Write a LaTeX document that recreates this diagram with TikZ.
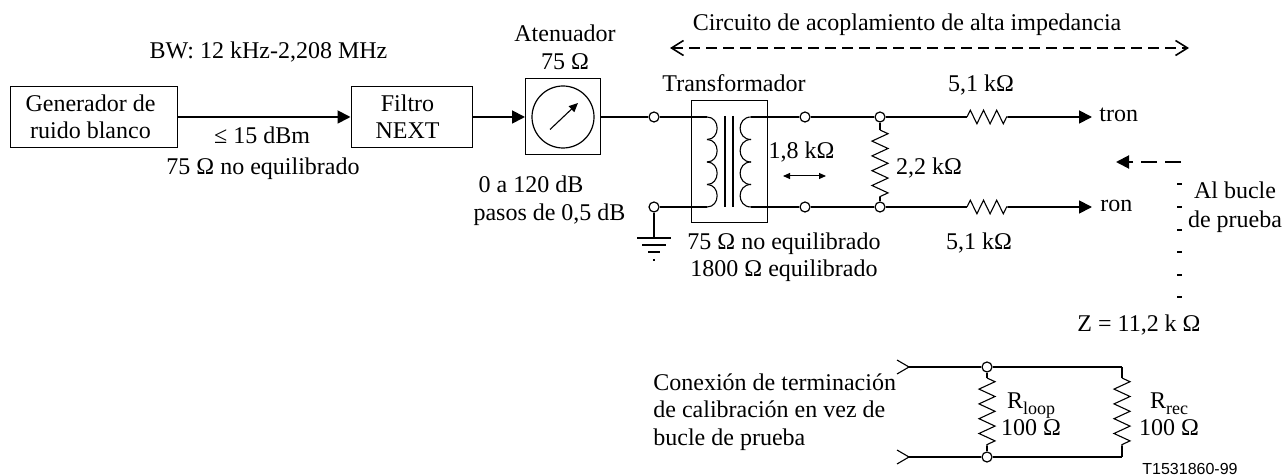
\documentclass[tikz,border=0pt]{standalone}
\usepackage{fontspec}
\setmainfont{Liberation Serif}
\newfontfamily\labelfont{Liberation Sans}
\usetikzlibrary{arrows.meta,decorations.pathmorphing}
\tikzset{
	box/.style={draw, line width=0.5pt, fill=white, inner sep=0pt},
	label/.style={align=center, inner sep=0pt, font=\fontsize{12}{13.5}\selectfont},
	wire/.style={line width=0.9pt},
	thinwire/.style={line width=0.55pt},
	fin/.style={-{Triangle[length=6.5pt,width=6.5pt]}},
	term/.style={circle, draw, line width=0.6pt, fill=white, minimum size=5pt, inner sep=0pt},
	zzh/.style={decorate, decoration={zigzag, segment length=6.6pt, amplitude=3.4pt}},
	zzv/.style={decorate, decoration={zigzag, segment length=7.4pt, amplitude=4pt}},
	open/.style={{Straight Barb[length=6pt,width=7.5pt]}-{Straight Barb[length=6pt,width=7.5pt]}}
}
\newcommand{\coil}[2]{\foreach \i in {0,1,2,3} {\draw[thinwire] (#1, 117+22.5*\i) .. controls (#1+#2, 117+22.5*\i) and (#1+#2, 139.5+22.5*\i) .. (#1, 139.5+22.5*\i);}}
\begin{document}
\begin{tikzpicture}[x=0.5pt, y=-0.5pt]
	\useasboundingbox (0, 0) rectangle (1284, 475);
	%%%%% BLOCKS %%%%%
	\node[box, minimum width=83.5pt, minimum height=30.5pt, label] (gen) at (93.5, 117) {Generador de\hspace*{3pt}\\ruido blanco\hspace*{3pt}};
	\node[box, minimum width=60.5pt, minimum height=30.5pt, label] (filtro) at (411.5, 117) {Filtro\hspace*{4pt}\\NEXT\hspace*{4pt}};
	\node[box, minimum width=37.5pt, minimum height=38pt] (aten) at (563, 117) {};
	\node[circle, draw, line width=0.6pt, minimum size=31pt, inner sep=0pt] (dial) at (563, 117) {};
	\draw[thinwire, -{Triangle[length=4.5pt,width=4pt]}] (550, 129.5) -- (578, 103);
	\draw[box, fill=none] (691, 101) rectangle (767, 223);

	\draw[wire, fin] (gen) -- (filtro);
	\draw[wire, fin] (filtro) -- (aten);

	%%%%% TRANSFORMER %%%%%
	\coordinate (lt) at (707, 117);
	\coordinate (lb) at (707, 207);
	\coordinate (rt) at (751, 117);
	\coordinate (rb) at (751, 207);
	\coil{707}{13.5}
	\coil{751}{-14.5}
	\draw[line width=1pt] (725, 116) -- (725, 207);
	\draw[line width=1pt] (733, 116) -- (733, 207);

	%%%%% TERMINALS %%%%%
	\node[term] (a) at (654, 117) {};
	\node[term] (b) at (654, 207) {};
	\node[term] (c) at (805, 117) {};
	\node[term] (d) at (805, 207) {};
	\node[term] (e) at (880, 117) {};
	\node[term] (f) at (880, 207) {};
	\draw[wire] (aten) -- (a) -- (lt);
	\draw[thinwire] (b) -- (lb);
	\draw[wire] (rt) -- (c) -- (e);
	\draw[wire] (rb) -- (d) -- (f);

	%%%%% GROUND %%%%%
	\coordinate (gnd) at (654, 238);
	\draw[thinwire] (b) -- (gnd);
	\draw[line width=1pt] (637, 238) -- (671, 238);
	\draw[line width=1pt] (642, 245) -- (666, 245);
	\draw[line width=1pt] (648, 252) -- (660, 252);
	\draw[thinwire] (654, 259) -- (654, 261);

	%%%%% RESISTORS %%%%%
	\coordinate (r1a) at (967, 117);
	\coordinate (r1b) at (1008, 117);
	\coordinate (r2a) at (967, 207);
	\coordinate (r2b) at (1008, 207);
	\coordinate (tron) at (1092, 117);
	\coordinate (ron) at (1092, 207);
	\draw[wire] (e) -- (r1a);
	\draw[thinwire, zzh] (r1a) -- (r1b);
	\draw[wire, fin] (r1b) -- (tron);
	\draw[wire] (f) -- (r2a);
	\draw[thinwire, zzh] (r2a) -- (r2b);
	\draw[wire, fin] (r2b) -- (ron);
	\coordinate (r3a) at (880, 130);
	\coordinate (r3b) at (880, 197);
	\draw[thinwire] (e) -- (r3a);
	\draw[thinwire, zzv] (r3a) -- (r3b);
	\draw[thinwire] (r3b) -- (f);

	%%%%% DASHED %%%%%
	\draw[line width=0.8pt, dash pattern=on 5.5pt off 3pt, open] (670, 48) -- (1189, 48);
	\coordinate (dv) at (1181, 162);
	\draw[line width=1pt, dash pattern=on 8pt off 4pt, -{Triangle[length=6.5pt,width=6.5pt]}] (dv) -- (1116, 162);
	\foreach \y in {184, 207, 230, 252, 275, 297} {
		\draw[line width=1pt] (1177, \y) -- (1182, \y);
	}
	\draw[<->, line width=0.5pt, >={Triangle[length=3.5pt,width=3pt]}] (783, 176) -- (826, 176);

	%%%%% CALIBRATION %%%%%
	\node[term] (g) at (987, 367) {};
	\node[term] (h) at (987, 457) {};
	\coordinate (in1) at (909, 367);
	\coordinate (in2) at (909, 457);
	\coordinate (q1) at (1122, 367);
	\coordinate (q2) at (1122, 457);
	\draw[thinwire] (in1) -- (g) -- (q1);
	\draw[thinwire] (in2) -- (h) -- (q2);
	\draw[thinwire] (897, 360) -- (in1) -- (897, 374);
	\draw[thinwire] (897, 450) -- (in2) -- (897, 464);
	\coordinate (r4a) at (987, 378);
	\coordinate (r4b) at (987, 446);
	\draw[thinwire] (g) -- (r4a);
	\draw[thinwire, zzv] (r4a) -- (r4b);
	\draw[thinwire] (r4b) -- (h);
	\coordinate (r5a) at (1122, 378);
	\coordinate (r5b) at (1122, 446);
	\draw[thinwire] (q1) -- (r5a);
	\draw[thinwire, zzv] (r5a) -- (r5b);
	\draw[thinwire] (r5b) -- (q2);

	%%%%% TEXTS %%%%%
	\node[label] (t1) at (268.5, 52) {BW: 12 kHz-2,208 MHz};
	\node[label] (t2) at (262, 135) {≤ 15 dBm};
	\node[label] (t3) at (263, 169) {75 Ω no equilibrado};
	\node[label] (t4) at (565, 47) {Atenuador\\[0.5pt]75 Ω};
	\node[label] (t5) at (531, 184) {0 a 120 dB};
	\node[label] (t5b) at (549.5, 215) {pasos de 0,5 dB};
	\node[label] (t6) at (734, 83) {Transformador};
	\node[label] (t7) at (784, 257) {75 Ω no equilibrado\\1800 Ω equilibrado};
	\node[label] (t8) at (801.5, 152) {1,8 kΩ};
	\node[label] (t9) at (929, 168) {2,2 kΩ};
	\node[label] (t10) at (981, 85) {5,1 kΩ};
	\node[label] (t11) at (979, 243) {5,1 kΩ};
	\node[label, anchor=west] (t12) at (1099, 115) {tron};
	\node[label, anchor=west] (t13) at (1100, 206) {ron};
	\node[label] (t14) at (1235, 207) {Al bucle\\[1pt]de prueba};
	\node[label] (t15) at (1139, 325) {Z = 11,2 k Ω};
	\node[label] (t16) at (907, 25) {Circuito de acoplamiento de alta impedancia};
	\node[label, align=left, anchor=west, font=\fontsize{12}{13.7}\selectfont] (t17) at (653, 412) {Conexión de terminación\\de calibración en vez de\\bucle de prueba};
	\node[label] (t18) at (1031, 414) {R\raisebox{-3pt}{\fontsize{9}{9}\selectfont loop}\\100 Ω};
	\node[label] (t19) at (1169, 414) {R\raisebox{-3pt}{\fontsize{9}{9}\selectfont rec}\\100 Ω};
	\node[inner sep=0pt, font=\labelfont\fontsize{8}{9}\selectfont] (t20) at (1190, 469) {T1531860-99};
\end{tikzpicture}
\end{document}
